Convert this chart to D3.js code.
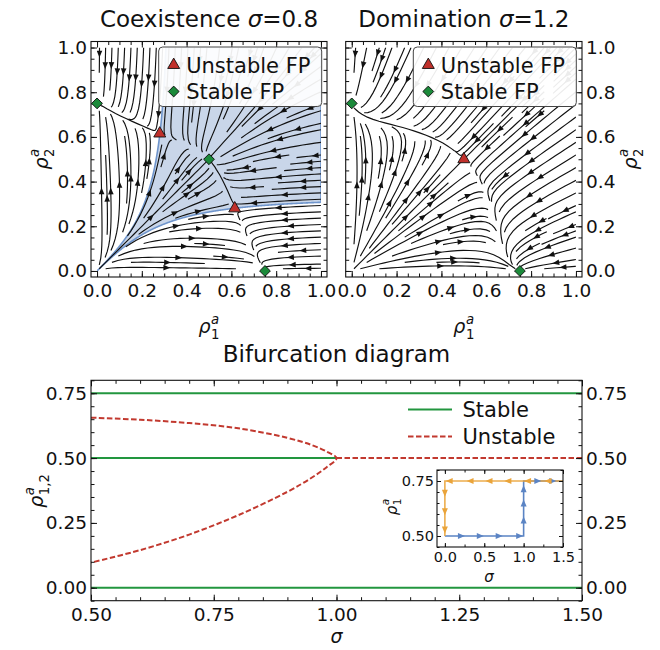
<!DOCTYPE html>
<html>
<head>
<meta charset="utf-8">
<script src="https://cdn.jsdelivr.net/npm/d3@7"></script>
<style>
  body { margin: 0; background: #fff; }
  svg { font-family: "DejaVu Sans", sans-serif; }
</style>
</head>
<body>
<svg id="fig" width="660" height="650"></svg>
<script>
// ── Data ──
const panelTitles  = ['Coexistence', 'Domination'];
const panelSigma   = [0.8, 1.2];
const stableFP     = [[[0, 0.75], [0.75, 0], [0.5, 0.5]], [[0, 0.75], [0.75, 0]]];
const unstableFP   = [[[0.28, 0.615], [0.615, 0.28]], [[0.5, 0.5]]];
const unitTicks    = [0, 0.2, 0.4, 0.6, 0.8, 1.0];

// growth / competition shape of the two phase portraits
const coexGrowth   = [0.229, 3.625];   // (0.75 - a)(g0 + g1 a)
const coexSat      = 0.7;              // competition saturation scale
const domCurv      = 3.52;
const domCubic     = -1.3;

const stableLevels  = [0.75, 0.0];
const symLevel      = 0.5;
const sigmaRange    = [0.5, 1.5];
const sigmaCrit     = 1.0;
const branchSigma   = [0.5, 0.6, 0.7, 0.8, 0.9, 0.95, 0.98, 1.0];
const branchUpper   = [0.656, 0.648, 0.635, 0.615, 0.578, 0.55, 0.525, 0.5];
const branchLower   = [0.097, 0.145, 0.205, 0.28, 0.37, 0.425, 0.465, 0.5];
const bifXTicks     = [0.5, 0.75, 1.0, 1.25, 1.5];
const bifYTicks     = [0, 0.25, 0.5, 0.75];

const insetOrange   = [[1.5, 0.75], [0, 0.75], [0, 0.5]];
const insetBlue     = [[0, 0.5], [1, 0.5], [1, 0.75], [1.5, 0.75]];
const orangeLeftAt  = [0.055, 0.32, 0.56, 0.8, 1.05, 1.31];
const orangeDownAt  = [0.694, 0.61, 0.527];
const blueRightAt   = [0.21, 0.45, 0.69, 0.95];
const blueUpAt      = [0.573, 0.65, 0.715];
const blueTopAt     = [1.18, 1.37];
const insetXTicks   = [0, 0.5, 1.0, 1.5];
const insetYTicks   = [0.5, 0.75];

const C = {
  green: '#22963f', red: '#c2392f', tri: '#c0302b', dia: '#1b8a3a',
  fill: '#c9d6e9', edge: '#6f95cc', orange: '#eaa43a', blue: '#5b84c4', ink: '#111'
};

const svg = d3.select('#fig');

// ── Vector fields ──
function coexField() {
  const A = a => (0.75 - a) * (coexGrowth[0] + coexGrowth[1] * a);
  const c = b => 1 - Math.exp(-b / coexSat);
  return (x, y) => [x * (A(x) - c(y)), y * (A(y) - c(x))];
}
function domField(sig) {
  const F = (a, b) => {
    const t = (a + b) > 0 ? b / (a + b) : 0.5;
    const d = t - 0.5;
    const G = 0.5 + sig * d + domCurv * d * d + domCubic * d * d * d;
    return 0.75 - a - b * G;
  };
  return (x, y) => [x * F(x, y), y * F(y, x)];
}

// ── Streamplot (port of matplotlib's algorithm) ──
function streamplot(f, density, lo) {
  const nm = Math.floor(30 * density);
  const span = 1 - lo;
  const mask = new Uint8Array(nm * nm);
  let traj = [], cur = null;
  const toMask = v => Math.round((v - lo) / span * (nm - 1));
  const inside = (x, y) => x >= lo && x <= 1 && y >= lo && y <= 1;
  function upd(x, y) {
    const xm = toMask(x), ym = toMask(y);
    if (cur && cur[0] === xm && cur[1] === ym) return true;
    if (mask[ym * nm + xm] === 0) {
      mask[ym * nm + xm] = 1; traj.push(ym * nm + xm); cur = [xm, ym];
      return true;
    }
    return false;
  }
  const maxds = Math.min(span / nm, 0.1), maxerr = 0.003, maxlen = 4, minlen = 0.1;
  function dir(x, y, s) {
    const [u, v] = f(x, y);
    const sp = Math.hypot(u, v);
    if (!(sp > 1e-12)) return null;
    return [s * u / sp, s * v / sp];
  }
  function euler(pts, s) {
    const [x, y] = pts[pts.length - 1];
    const c = dir(x, y, s);
    if (!c) return 0;
    const dsx = c[0] === 0 ? Infinity : c[0] < 0 ? (x - lo) / -c[0] : (1 - x) / c[0];
    const dsy = c[1] === 0 ? Infinity : c[1] < 0 ? (y - lo) / -c[1] : (1 - y) / c[1];
    const ds = Math.min(dsx, dsy);
    pts.push([x + c[0] * ds, y + c[1] * ds]);
    return ds;
  }
  function rk12(x0, y0, s) {
    let ds = maxds, st = 0, x = x0, y = y0;
    const pts = [];
    while (true) {
      if (!inside(x, y)) { if (pts.length) st += euler(pts, s); break; }
      pts.push([x, y]);
      const k1 = dir(x, y, s);
      if (!k1) break;
      const xa = x + ds * k1[0], ya = y + ds * k1[1];
      if (!inside(xa, ya)) { st += euler(pts, s); break; }
      const k2 = dir(xa, ya, s);
      if (!k2) break;
      const dx1 = ds * k1[0], dy1 = ds * k1[1];
      const dx2 = ds * 0.5 * (k1[0] + k2[0]), dy2 = ds * 0.5 * (k1[1] + k2[1]);
      const err = Math.hypot(dx2 - dx1, dy2 - dy1);
      if (err < maxerr) {
        x += dx2; y += dy2;
        if (!inside(x, y)) break;
        if (!upd(x, y)) break;
        if (st + ds > maxlen) break;
        st += ds;
      }
      ds = err === 0 ? maxds : Math.min(maxds, 0.85 * ds * Math.sqrt(maxerr / err));
    }
    return [st, pts];
  }
  // spiral of start points, outside in
  const starts = [];
  let xf = 0, yf = 1, xl = nm - 1, yl = nm - 1, sx = 0, sy = 0, d = 'right';
  for (let i = 0; i < nm * nm; i++) {
    starts.push([sx, sy]);
    if (d === 'right') { sx++; if (sx >= xl) { xl--; d = 'up'; } }
    else if (d === 'up') { sy++; if (sy >= yl) { yl--; d = 'left'; } }
    else if (d === 'left') { sx--; if (sx <= xf) { xf++; d = 'down'; } }
    else { sy--; if (sy <= yf) { yf++; d = 'right'; } }
  }
  const lines = [];
  for (const [xm, ym] of starts) {
    if (mask[ym * nm + xm] !== 0) continue;
    const x0 = lo + xm / (nm - 1) * span, y0 = lo + ym / (nm - 1) * span;
    traj = []; cur = null;
    if (!upd(x0, y0)) continue;
    const [sb, pb] = rk12(x0, y0, -1);
    cur = [xm, ym];
    const [sf, pf] = rk12(x0, y0, 1);
    if (sb + sf > minlen) lines.push(pb.reverse().concat(pf.slice(1)));
    else traj.forEach(k => { mask[k] = 0; });
  }
  return lines;
}

// ── Separatrix helpers ──
function jac(f, x, y) {
  const h = 1e-6;
  const fx1 = f(x + h, y), fx0 = f(x - h, y), fy1 = f(x, y + h), fy0 = f(x, y - h);
  return [[(fx1[0] - fx0[0]) / (2 * h), (fy1[0] - fy0[0]) / (2 * h)],
          [(fx1[1] - fx0[1]) / (2 * h), (fy1[1] - fy0[1]) / (2 * h)]];
}
function refine(f, p) {
  let [x, y] = p;
  for (let i = 0; i < 40; i++) {
    const [u, v] = f(x, y), J = jac(f, x, y);
    const det = J[0][0] * J[1][1] - J[0][1] * J[1][0];
    if (Math.abs(det) < 1e-12) break;
    const dx = (J[1][1] * u - J[0][1] * v) / det, dy = (-J[1][0] * u + J[0][0] * v) / det;
    x -= dx; y -= dy;
    if (Math.hypot(dx, dy) < 1e-10) break;
  }
  return Math.hypot(x - p[0], y - p[1]) < 0.08 ? [x, y] : p;
}
function stableBranches(f, p) {
  const J = jac(f, p[0], p[1]);
  const tr = J[0][0] + J[1][1], det = J[0][0] * J[1][1] - J[0][1] * J[1][0];
  const ls = (tr - Math.sqrt(Math.max(tr * tr - 4 * det, 0))) / 2;
  let v = Math.abs(J[0][1]) > 1e-9 ? [J[0][1], ls - J[0][0]] : [ls - J[1][1], J[1][0]];
  const n = Math.hypot(v[0], v[1]); v = [v[0] / n, v[1] / n];
  return [1, -1].map(sg => {
    let x = p[0] + sg * 1e-3 * v[0], y = p[1] + sg * 1e-3 * v[1];
    const pts = [p, [x, y]];
    const h = 0.002;
    const step = (a, b) => { const [u, w] = f(a, b); const s = Math.hypot(u, w) || 1; return [-u / s, -w / s]; };
    for (let i = 0; i < 4000; i++) {
      const k1 = step(x, y), k2 = step(x + h * k1[0] / 2, y + h * k1[1] / 2);
      const nx = x + h * k2[0], ny = y + h * k2[1];
      if (Math.hypot(nx, ny) < 0.004) { pts.push([0, 0]); break; }
      if (ny > 1 || nx > 1) {
        const t = ny > 1 ? (1 - y) / (ny - y) : (1 - x) / (nx - x);
        pts.push([x + t * (nx - x), y + t * (ny - y)]); break;
      }
      x = nx; y = ny; pts.push([x, y]);
    }
    return pts;
  });
}

// ── Axes helper ──
function frame(g, x, y, o) {
  const [x0, x1] = x.range(), [y0, y1] = y.range();
  const tk = axis => axis.tickSizeOuter(0);
  const style = sel => {
    sel.select('.domain').remove();
    sel.selectAll('.tick line').attr('stroke', C.ink).attr('stroke-width', 1);
    sel.selectAll('text').attr('fill', C.ink).attr('font-size', o.fs).attr('font-family', '"DejaVu Sans", sans-serif');
    sel.attr('font-size', null).attr('font-family', null);
  };
  const add = (axis, tr) => g.append('g').attr('transform', tr).call(axis).call(style);
  add(tk(d3.axisBottom(x).tickValues(o.xMinor).tickSize(-o.minor).tickFormat('')), `translate(0,${y0})`);
  add(tk(d3.axisTop(x).tickValues(o.xMinor).tickSize(-o.minor).tickFormat('')), `translate(0,${y1})`);
  add(tk(d3.axisLeft(y).tickValues(o.yMinor).tickSize(-o.minor).tickFormat('')), `translate(${x0},0)`);
  add(tk(d3.axisRight(y).tickValues(o.yMinor).tickSize(-o.minor).tickFormat('')), `translate(${x1},0)`);
  add(tk(d3.axisBottom(x).tickValues(o.xMajor).tickSize(-o.major).tickPadding(o.xPad).tickFormat(d3.format(o.xFmt))), `translate(0,${y0})`);
  add(tk(d3.axisTop(x).tickValues(o.xMajor).tickSize(-o.major).tickFormat('')), `translate(0,${y1})`);
  add(tk(d3.axisLeft(y).tickValues(o.yMajor).tickSize(-o.major).tickPadding(o.yPad)
      .tickFormat(o.yLeft ? d3.format(o.yFmt) : '')), `translate(${x0},0)`);
  add(tk(d3.axisRight(y).tickValues(o.yMajor).tickSize(-o.major).tickPadding(o.yPad)
      .tickFormat(o.yRight ? d3.format(o.yFmt) : '')), `translate(${x1},0)`);
  g.append('rect').attr('x', x0).attr('y', y1).attr('width', x1 - x0).attr('height', y0 - y1)
    .attr('fill', 'none').attr('stroke', C.ink).attr('stroke-width', 1.1);
}

// ρ with stacked sub- and superscript, as one text element
function rhoLabel(parent, cx, cy, sub, fs, rot) {
  const g = parent.append('g').attr('transform', `translate(${cx},${cy}) rotate(${rot})`);
  const sfs = fs * 0.7;
  const probe = g.append('text').attr('font-size', sfs).text(sub);
  const subW = probe.node().getComputedTextLength();
  probe.remove();
  const t = g.append('text').attr('fill', C.ink).attr('font-size', fs);
  t.append('tspan').attr('font-style', 'italic').text('ρ');
  t.append('tspan').attr('font-size', sfs).attr('dx', 0.5).attr('dy', fs * 0.32).text(sub);
  t.append('tspan').attr('font-size', sfs).attr('font-style', 'italic')
    .attr('dx', -subW).attr('dy', -fs * 0.84).text('a');
  const b = t.node().getBBox();
  t.attr('transform', `translate(${-(b.x + b.width / 2)},${-(b.y + b.height / 2)})`);
}

function triangle(g, px, py, ang, len, hw, color) {
  const ca = Math.cos(ang), sa = Math.sin(ang);
  const pts = [[px, py], [px - len * ca - hw * sa, py - len * sa + hw * ca], [px - len * ca + hw * sa, py - len * sa - hw * ca]];
  g.append('path').attr('d', 'M' + pts.map(p => p.join(',')).join('L') + 'Z').attr('fill', color).attr('stroke', 'none');
}

const diamondSym  = d3.symbol().type(d3.symbolSquare).size(58);
const triangleSym = d3.symbol().type(d3.symbolTriangle).size(62);

// ── Phase portraits ──
const panelX = [[91, 327], [345.7, 582]];
const lim = [-0.027, 1.027];
const minor05 = d3.range(0, 1.0001, 0.05);

panelSigma.forEach((sig, pi) => {
  const x = d3.scaleLinear().domain(lim).range(panelX[pi]);
  const y = d3.scaleLinear().domain(lim).range([277, 41.5]);
  const g = svg.append('g');
  const clipId = 'clip' + pi;
  g.append('clipPath').attr('id', clipId).append('rect')
    .attr('x', x(0)).attr('y', y(1)).attr('width', x(1) - x(0)).attr('height', y(0) - y(1));
  const f = sig < sigmaCrit ? coexField() : domField(sig);

  // basin of the coexistence point, bounded by the saddles' stable manifolds
  if (unstableFP[pi].length === 2) {
    const U = refine(f, unstableFP[pi][0]), L = refine(f, unstableFP[pi][1]);
    const bu = stableBranches(f, U), bl = stableBranches(f, L);
    const toO = bs => bs.find(b => Math.hypot(...b[b.length - 1]) < 0.01) || bs[0];
    const away = bs => bs.find(b => Math.hypot(...b[b.length - 1]) >= 0.01) || bs[1];
    const uo = toO(bu), ut = away(bu), lo = toO(bl), lr = away(bl);
    const poly = uo.slice().reverse().concat(ut, [[1, 1]], lr.slice().reverse(), lo);
    g.append('path').attr('clip-path', `url(#${clipId})`)
      .attr('d', d3.line().x(d => x(d[0])).y(d => y(d[1]))(poly) + 'Z')
      .attr('fill', C.fill).attr('stroke', C.edge).attr('stroke-width', 1.6);
  }

  // streamlines
  const lines = streamplot(f, 1.2, 0.01);
  const line = d3.line().x(d => x(d[0])).y(d => y(d[1]));
  const sl = g.append('g').attr('clip-path', `url(#${clipId})`);
  lines.forEach(t => {
    sl.append('path').attr('d', line(t)).attr('fill', 'none').attr('stroke', C.ink).attr('stroke-width', 1.15);
    const s = [0];
    for (let i = 1; i < t.length; i++) s.push(s[i - 1] + Math.hypot(t[i][0] - t[i - 1][0], t[i][1] - t[i - 1][1]));
    const half = s[s.length - 1] / 2;
    let n = d3.bisectLeft(s.slice(1), half);
    n = Math.min(n, t.length - 2);
    const tail = t[n], head = [(t[n][0] + t[n + 1][0]) / 2, (t[n][1] + t[n + 1][1]) / 2];
    const ang = Math.atan2(y(head[1]) - y(tail[1]), x(head[0]) - x(tail[0]));
    triangle(sl, x(head[0]), y(head[1]), ang, 6.8, 2.8, C.ink);
  });

  frame(g, x, y, {
    xMajor: unitTicks, xMinor: minor05, yMajor: unitTicks, yMinor: minor05,
    xFmt: '.1f', yFmt: '.1f', yLeft: pi === 0, yRight: pi === 1,
    fs: 18.5, major: 6, minor: 3.5, xPad: 7, yPad: 4
  });

  // fixed points
  stableFP[pi].forEach(p => g.append('path').attr('d', diamondSym)
    .attr('transform', `translate(${x(p[0])},${y(p[1])}) rotate(45)`)
    .attr('fill', C.dia).attr('stroke', C.ink).attr('stroke-width', 0.9));
  unstableFP[pi].forEach(p => g.append('path').attr('d', triangleSym)
    .attr('transform', `translate(${x(p[0])},${y(p[1])})`)
    .attr('fill', C.tri).attr('stroke', C.ink).attr('stroke-width', 0.9));

  // legend
  const lx = pi === 0 ? 158.7 : 413.3;
  const lg = g.append('g');
  lg.append('rect').attr('x', lx).attr('y', 47).attr('width', 163).attr('height', 59.5).attr('rx', 4)
    .attr('fill', '#fff').attr('fill-opacity', 0.92).attr('stroke', '#444').attr('stroke-width', 1);
  lg.append('path').attr('d', triangleSym).attr('transform', `translate(${lx + 15},${65})`)
    .attr('fill', C.tri).attr('stroke', C.ink).attr('stroke-width', 0.9);
  lg.append('path').attr('d', diamondSym).attr('transform', `translate(${lx + 15},${91.5}) rotate(45)`)
    .attr('fill', C.dia).attr('stroke', C.ink).attr('stroke-width', 0.9);
  lg.append('text').attr('x', lx + 27.5).attr('y', 72.5).attr('font-size', 21).attr('fill', C.ink).text('Unstable FP');
  lg.append('text').attr('x', lx + 27.5).attr('y', 99).attr('font-size', 21).attr('fill', C.ink).text('Stable FP');

  // titles and labels
  const cx = (x(0) + x(1)) / 2;
  const tt = svg.append('text').attr('x', cx).attr('y', 27).attr('text-anchor', 'middle')
    .attr('font-size', 23).attr('fill', C.ink);
  tt.append('tspan').text(panelTitles[pi] + ' ');
  tt.append('tspan').attr('font-style', 'italic').text('σ');
  tt.append('tspan').text('=' + sig.toFixed(1));
  rhoLabel(svg, cx, 327, '1', 19, 0);
  rhoLabel(svg, pi === 0 ? 42 : 631, 159, '2', 19, -90);
});

// ── Bifurcation diagram ──
{
  const x = d3.scaleLinear().domain(sigmaRange).range([91, 582]);
  const y = d3.scaleLinear().domain([-0.05, 0.8]).range([600.7, 380.3]);
  const g = svg.append('g');
  const line = d3.line().x(d => x(d[0])).y(d => y(d[1]));

  stableLevels.forEach(v => g.append('path').attr('d', line([[sigmaRange[0], v], [sigmaRange[1], v]]))
    .attr('stroke', C.green).attr('stroke-width', 2).attr('fill', 'none'));
  g.append('path').attr('d', line([[sigmaRange[0], symLevel], [sigmaCrit, symLevel]]))
    .attr('stroke', C.green).attr('stroke-width', 2).attr('fill', 'none');
  g.append('path').attr('d', line([[sigmaCrit, symLevel], [sigmaRange[1], symLevel]]))
    .attr('stroke', C.red).attr('stroke-width', 2).attr('stroke-dasharray', '5.5,2.5').attr('fill', 'none');
  const branch = branchSigma.map((s, i) => [s, branchUpper[i]])
    .concat(branchSigma.slice().reverse().slice(1).map((s, i) => [s, branchLower[branchSigma.length - 2 - i]]));
  g.append('path').attr('d', d3.line().x(d => x(d[0])).y(d => y(d[1])).curve(d3.curveCatmullRom)(branch))
    .attr('stroke', C.red).attr('stroke-width', 2).attr('stroke-dasharray', '5.5,2.5').attr('fill', 'none');

  frame(g, x, y, {
    xMajor: bifXTicks, xMinor: d3.range(0.5, 1.5001, 0.05), yMajor: bifYTicks, yMinor: d3.range(-0.05, 0.8001, 0.05),
    xFmt: '.2f', yFmt: '.2f', yLeft: true, yRight: true,
    fs: 18.5, major: 6, minor: 3.5, xPad: 7, yPad: 4
  });

  // legend
  const lg = g.append('g');
  lg.append('line').attr('x1', 408).attr('x2', 452).attr('y1', 409.5).attr('y2', 409.5)
    .attr('stroke', C.green).attr('stroke-width', 2);
  lg.append('line').attr('x1', 408).attr('x2', 452).attr('y1', 436.5).attr('y2', 436.5)
    .attr('stroke', C.red).attr('stroke-width', 2).attr('stroke-dasharray', '5.5,2.5');
  lg.append('text').attr('x', 462.5).attr('y', 417).attr('font-size', 21).attr('fill', C.ink).text('Stable');
  lg.append('text').attr('x', 462.5).attr('y', 444).attr('font-size', 21).attr('fill', C.ink).text('Unstable');

  svg.append('text').attr('x', 336.5).attr('y', 362).attr('text-anchor', 'middle')
    .attr('font-size', 23).attr('fill', C.ink).text('Bifurcation diagram');
  svg.append('text').attr('x', 336.5).attr('y', 643).attr('text-anchor', 'middle')
    .attr('font-size', 19).attr('font-style', 'italic').attr('fill', C.ink).text('σ');
  rhoLabel(svg, 37, 491, '1,2', 19, -90);

  // inset
  const ix = d3.scaleLinear().domain([-0.1, 1.5]).range([437, 563]);
  const iy = d3.scaleLinear().domain([0.45, 0.8]).range([547, 470]);
  const ig = svg.append('g');
  ig.append('rect').attr('x', 437).attr('y', 470).attr('width', 126).attr('height', 77).attr('fill', '#fff');
  const il = d3.line().x(d => ix(d[0])).y(d => iy(d[1]));
  ig.append('path').attr('d', il(insetBlue)).attr('stroke', C.blue).attr('stroke-width', 1.6).attr('fill', 'none');
  ig.append('path').attr('d', il(insetOrange)).attr('stroke', C.orange).attr('stroke-width', 1.6).attr('fill', 'none')
    .attr('opacity', 0.9);
  blueRightAt.forEach(s => triangle(ig, ix(s) + 3.5, iy(0.5), 0, 7, 3, C.blue));
  blueUpAt.forEach(v => triangle(ig, ix(1), iy(v) - 3.5, -Math.PI / 2, 7, 3, C.blue));
  blueTopAt.forEach(s => triangle(ig, ix(s) + 3.5, iy(0.75), 0, 7, 3, C.blue));
  orangeLeftAt.forEach(s => triangle(ig, ix(s) - 3.5, iy(0.75), Math.PI, 7, 3, C.orange));
  orangeDownAt.forEach(v => triangle(ig, ix(0), iy(v) + 3.5, Math.PI / 2, 7, 3, C.orange));
  frame(ig, ix, iy, {
    xMajor: insetXTicks, xMinor: d3.range(0, 1.5001, 0.25), yMajor: insetYTicks, yMinor: d3.range(0.45, 0.8001, 0.05),
    xFmt: '.1f', yFmt: '.2f', yLeft: true, yRight: false,
    fs: 14.5, major: 4, minor: 2.5, xPad: 5, yPad: 3
  });
  svg.append('text').attr('x', 489).attr('y', 582).attr('text-anchor', 'middle')
    .attr('font-size', 15).attr('font-style', 'italic').attr('fill', C.ink).text('σ');
  rhoLabel(svg, 391, 507, '1', 15, -90);
}
</script>
</body>
</html>
